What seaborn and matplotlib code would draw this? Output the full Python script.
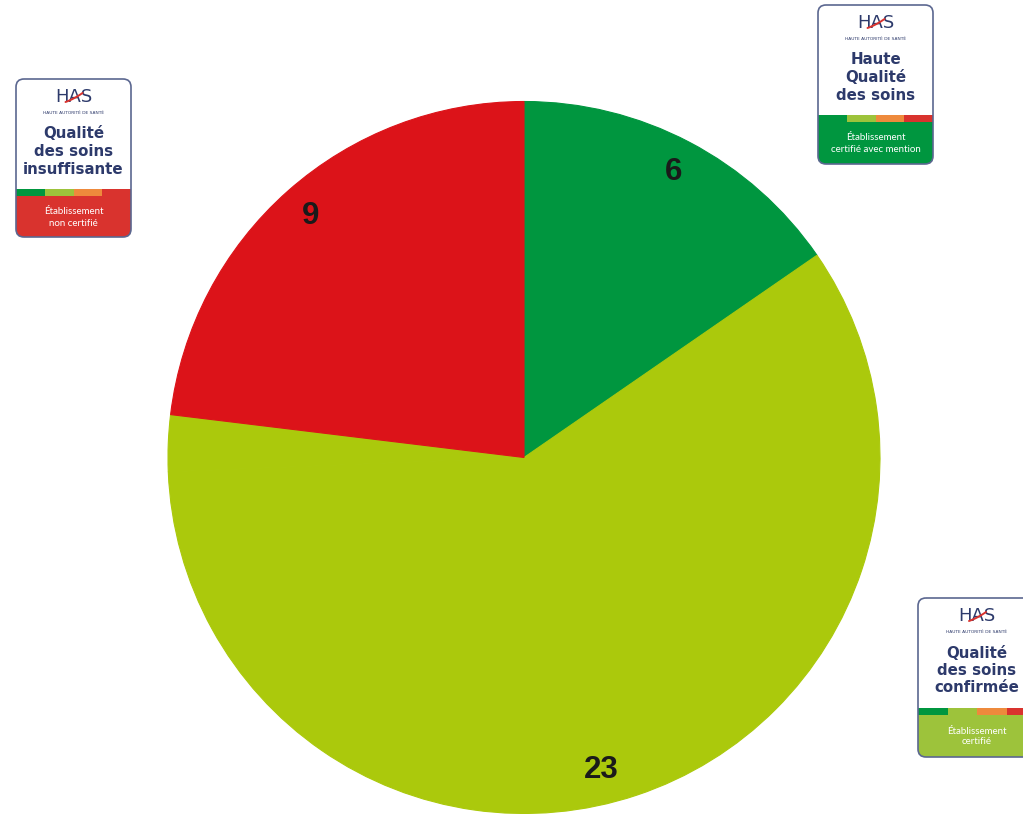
import matplotlib
matplotlib.use("Agg")
import matplotlib.pyplot as plt
import seaborn as sns
from matplotlib.patches import FancyBboxPatch, Rectangle
import numpy as np

sns.set_theme(style="white")
plt.rcParams['font.family'] = ['Liberation Sans Narrow', 'Liberation Sans', 'DejaVu Sans']

# Data (the yellow-green area in the picture covers 24/39 of the disc,
# while its label reads 23: an unlabeled unit share in the same colour)
categories = ["Haute qualité des soins", "Qualité des soins confirmée", "", "Qualité des soins insuffisante"]
values = [6, 23, 1, 9]
colors = ["#00963F", "#ABC90C", "#ABC90C", "#DC1319"]
groups = [[0], [1, 2], [3]]
group_labels = ["6", "23", "9"]

W, H = 1023, 814
fig = plt.figure(figsize=(W / 100, H / 100), dpi=100)
fig.patch.set_facecolor("white")

cx, cy, r = 524, 457.5, 356
ax = fig.add_axes([(cx - r) / W, (H - cy - r) / H, 2 * r / W, 2 * r / H])
wedges, _ = ax.pie(values, colors=colors, startangle=90, counterclock=False,
                   wedgeprops=dict(linewidth=0))
for w in wedges:
    w.set_edgecolor(w.get_facecolor())
    w.set_linewidth(0.8)
ax.set_xlim(-1, 1)
ax.set_ylim(-1, 1)
ax.set_aspect("auto")
ax.axis("off")

# labels at the middle of each visible colour region
for g, lab in zip(groups, group_labels):
    a0 = min(wedges[i].theta1 for i in g)
    a1 = max(wedges[i].theta2 for i in g)
    mid = np.deg2rad((a0 + a1) / 2)
    ax.text(0.905 * np.cos(mid), 0.905 * np.sin(mid), lab, ha="center", va="center",
            fontsize=22.5, fontweight="bold", color="#1a1a1a")

# Overlay for badges, in pixel coordinates
ov = fig.add_axes([0, 0, 1, 1], zorder=5)
ov.set_xlim(0, W)
ov.set_ylim(H, 0)
ov.axis("off")
ov.patch.set_alpha(0)

NAVY = "#2D3A6B"
strip_cols = ["#00963F", "#9DC33B", "#EE8A3C", "#D9332E"]
title_font = ['DejaVu Sans']
small_font = ['Lato', 'DejaVu Sans']


def badge(x0, y0, w, h, title, bottom, color):
    sw = w / 4
    for i, c in enumerate(strip_cols):
        ov.add_patch(Rectangle((x0 + i * sw, y0 + 110), sw, 7, color=c, lw=0, zorder=2))
    block = FancyBboxPatch((x0, y0 + 117), w, h - 117, boxstyle="round,pad=0,rounding_size=7",
                           facecolor=color, edgecolor="none", zorder=2)
    ov.add_patch(block)
    ov.add_patch(Rectangle((x0, y0 + 117), w, 10, color=color, lw=0, zorder=2))
    frame = FancyBboxPatch((x0, y0), w, h, boxstyle="round,pad=0,rounding_size=8",
                           facecolor="none", edgecolor="#5B6790", lw=1.2, zorder=4)
    ov.add_patch(frame)
    bg = FancyBboxPatch((x0, y0), w, h, boxstyle="round,pad=0,rounding_size=8",
                        facecolor="white", edgecolor="none", zorder=1)
    ov.add_patch(bg)
    xc = x0 + w / 2
    # HAS logo
    ov.text(xc, y0 + 18, "HAS", ha="center", va="center", fontsize=13,
            color=NAVY, family=['DejaVu Sans'], zorder=3)
    t = np.linspace(0, 1, 20)
    ov.plot(xc - 8 + 17 * t, y0 + 23 - 9 * t + 3 * t * (1 - t), color="#D9332E", lw=1.4, zorder=3)
    ov.text(xc, y0 + 34, "HAUTE AUTORITÉ DE SANTÉ", ha="center", va="center",
            fontsize=3.2, color=NAVY, family=['DejaVu Sans'], zorder=3)
    for i, line in enumerate(title):
        ov.text(xc, y0 + 55 + i * 17.5, line, ha="center", va="center", fontsize=10.8,
                fontweight="bold", color=NAVY, family=title_font, zorder=3)
    for i, line in enumerate(bottom):
        ov.text(xc, y0 + 133 + i * 11, line, ha="center", va="center", fontsize=7,
                color="white", family=small_font, zorder=3)


badge(16, 79, 115, 158, ["Qualité", "des soins", "insuffisante"],
      ["Établissement", "non certifié"], "#D9332E")
badge(818, 5, 115, 159, ["Haute", "Qualité", "des soins"],
      ["Établissement", "certifié avec mention"], "#00963F")
badge(918, 598, 118, 159, ["Qualité", "des soins", "confirmée"],
      ["Établissement", "certifié"], "#9DC33B")

fig.savefig("out.png", dpi=100, facecolor="white")
